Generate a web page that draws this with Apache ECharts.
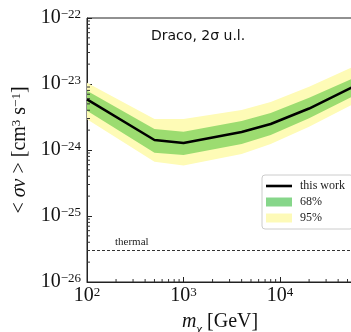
<!DOCTYPE html>
<html><head><meta charset="utf-8">
<script src="https://cdn.jsdelivr.net/npm/echarts@6/dist/echarts.min.js"></script>
<style>html,body{margin:0;padding:0;background:#fff}#c{width:351px;height:332px}</style>
</head><body><div id="c"></div>
<script>
// DM mass [GeV]
const masses = [100, 500, 1000, 4000, 8000, 20000, 55000];
// <sigma v> [cm^3 s^-1]
const median = [5.86e-24, 1.42e-24, 1.28e-24, 1.87e-24, 2.48e-24, 4.25e-24, 8.8e-24];
const lo68 = [3.94e-24, 9.1e-25, 8.4e-25, 1.23e-24, 1.69e-24, 3.02e-24, 6.35e-24];
const hi68 = [7.91e-24, 2.08e-24, 1.89e-24, 2.75e-24, 3.64e-24, 6.2e-24, 1.19e-23];
const lo95 = [2.92e-24, 6.65e-25, 5.82e-25, 8.7e-25, 1.23e-24, 2.25e-24, 4.81e-24];
const hi95 = [1.047e-23, 2.95e-24, 2.95e-24, 4.04e-24, 5.34e-24, 9.1e-24, 1.77e-23];
const thermal = 3e-26;
const xRange = [100, 57000];
const yRange = [1e-26, 1e-22];
const titleText = 'Draco, 2σ u.l.';

// ECharts' log scale rounds extents this small to 0, so the y values are
// handed to it in units of 1e-26 cm^3 s^-1 (labels convert back).
const yUnitExp = -26;
const yUnit = Math.pow(10, yUnitExp);
const toY = v => v / yUnit;
const pair = (ys) => masses.map((m, i) => [m, toY(ys[i])]);

const xMinor = [], yMinor = [];
for (let e = 2; e <= 4; e++) for (let k = 2; k <= 9; k++) { const v = k * Math.pow(10, e); if (v < xRange[1]) xMinor.push(v); }
for (let e = -26; e <= -23; e++) for (let k = 2; k <= 9; k++) yMinor.push(k * Math.pow(10, e));

const serif = 'Liberation Serif';
function powText(r) { return '{b|10}{s|' + (r < 0 ? '\u2212' : '') + Math.abs(r) + '}'; }
function xLabel(v) { const e = Math.log10(v), r = Math.round(e); return Math.abs(e - r) > 1e-6 ? '' : powText(r); }
function yLabel(v) { const e = Math.log10(v), r = Math.round(e); return Math.abs(e - r) > 1e-6 ? '' : powText(r + yUnitExp); }
const labRich = {
  b: { fontFamily: serif, fontSize: 20, color: '#111' },
  s: { fontFamily: serif, fontSize: 13, color: '#111', verticalAlign: 'top' }
};

function bandSeries(name, lo, hi, fill, legendColor, z) {
  return { name: name, type: 'custom', z: z, silent: true,
    itemStyle: { color: legendColor },
    data: masses.map((m, i) => [m, toY(lo[i]), toY(hi[i])]),
    encode: { x: 0, y: [1, 2] },
    renderItem: (p, api) => {
      if (p.dataIndex !== 0) return null;
      const top = masses.map((m, i) => api.coord([m, toY(hi[i])]));
      const bot = masses.map((m, i) => api.coord([m, toY(lo[i])])).reverse();
      return { type: 'polygon', shape: { points: top.concat(bot) }, style: { fill: fill } };
    } };
}

const chart = echarts.init(document.getElementById('c'), null, { renderer: 'canvas' });
chart.setOption({
  animation: false,
  backgroundColor: '#fff',
  grid: { left: 87, top: 18, right: -2, bottom: 50, show: true, borderColor: '#222', borderWidth: 1, backgroundColor: 'transparent', containLabel: false, outerBoundsMode: 'none' },
  title: { text: titleText, left: 146, top: 24, textStyle: { fontFamily: 'DejaVu Sans', fontSize: 14, fontWeight: 'normal', color: '#111' } },
  legend: {
    orient: 'vertical', left: 262, top: 175,
    padding: [5, 8, 5, 4], itemGap: 4, itemWidth: 26, itemHeight: 9,
    backgroundColor: '#fff', borderColor: '#cccccc', borderWidth: 1, borderRadius: 3,
    textStyle: { fontFamily: serif, fontSize: 12, color: '#222', padding: [0, 0, 0, 3] },
    data: [
      { name: 'this work', icon: 'path://M0,0M26,9M0,3.2H26V5.8H0Z' },
      { name: '68%', icon: 'rect' },
      { name: '95%', icon: 'rect' }
    ]
  },
  xAxis: {
    type: 'log', logBase: 10, min: xRange[0], max: xRange[1],
    name: '{i|m}{sub|\u03c7}{t| [GeV]}', nameLocation: 'middle', nameGap: 30,
    nameTextStyle: { rich: {
      i: { fontFamily: serif, fontStyle: 'italic', fontSize: 20, color: '#111' },
      sub: { fontFamily: serif, fontStyle: 'italic', fontSize: 13, color: '#111', verticalAlign: 'bottom', padding: [0, 0, -4, 0] },
      t: { fontFamily: serif, fontSize: 20, color: '#111' } } },
    axisLine: { show: true, lineStyle: { color: '#222', width: 1 } },
    axisTick: { show: true, inside: true, length: 5, lineStyle: { color: '#222' } },
    axisLabel: { formatter: xLabel, rich: labRich, margin: 4, showMinLabel: true, showMaxLabel: false },
    splitLine: { show: false }
  },
  yAxis: {
    type: 'log', logBase: 10, min: toY(yRange[0]), max: toY(yRange[1]),
    name: '{t|< }{i|\u03c3v}{t| > [cm}{s|3}{t| s}{s|\u22121}{t|]}', nameLocation: 'middle', nameGap: 56,
    nameTextStyle: { rich: {
      t: { fontFamily: serif, fontSize: 20, color: '#111' },
      i: { fontFamily: serif, fontStyle: 'italic', fontSize: 20, color: '#111' },
      s: { fontFamily: serif, fontSize: 13, color: '#111', verticalAlign: 'top' } } },
    axisLine: { show: true, lineStyle: { color: '#222', width: 1 } },
    axisTick: { show: true, inside: true, length: 5, lineStyle: { color: '#222' } },
    axisLabel: { formatter: yLabel, rich: labRich, margin: 6, showMinLabel: true, showMaxLabel: true },
    splitLine: { show: false }
  },
  series: [
    bandSeries('95%', lo95, hi95, '#fefbb6', '#fdfab8', 1),
    bandSeries('68%', lo68, hi68, '#9cdc70', '#86d68a', 2),
    { name: 'this work', type: 'line', data: pair(median), symbol: 'none',
      itemStyle: { color: '#000' }, lineStyle: { color: '#000', width: 2.5 }, z: 4 },
    { name: '_thermal', type: 'line', data: [[xRange[0], toY(thermal)], [xRange[1], toY(thermal)]], symbol: 'none',
      lineStyle: { color: '#333', type: [3, 2], width: 1 }, z: 3 },
    { name: '_ticks', type: 'custom', data: [[xRange[0], toY(yRange[0])]], z: 5, silent: true,
      renderItem: (p, api) => {
        const ch = [];
        xMinor.forEach(v => { const pt = api.coord([v, toY(yRange[0])]);
          ch.push({ type: 'line', shape: { x1: pt[0], y1: pt[1], x2: pt[0], y2: pt[1] - 3 }, style: { stroke: '#333', lineWidth: 1 } }); });
        yMinor.forEach(v => { const pt = api.coord([xRange[0], toY(v)]);
          ch.push({ type: 'line', shape: { x1: pt[0], y1: pt[1], x2: pt[0] + 3, y2: pt[1] }, style: { stroke: '#333', lineWidth: 1 } }); });
        const tp = api.coord([xRange[0], toY(thermal)]);
        ch.push({ type: 'text', x: tp[0] + 28, y: tp[1] - 3, style: { text: 'thermal', fontFamily: serif, fontSize: 11, fill: '#222', textVerticalAlign: 'bottom' } });
        return { type: 'group', children: ch };
      } }
  ]
});
</script></body></html>
